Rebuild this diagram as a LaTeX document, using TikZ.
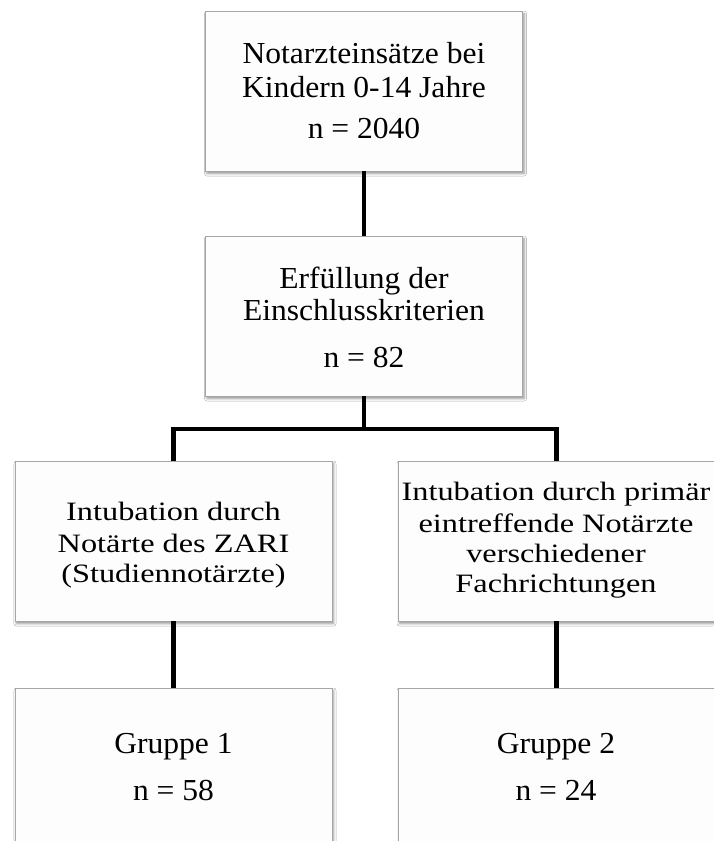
\documentclass[tikz,border=0pt]{standalone}
\usepackage{fontspec}
\setmainfont{Liberation Serif}
\newfontfamily\mainwide{Liberation Serif}[FakeStretch=1.035]
\newfontfamily\wideserif{Liberation Serif}[FakeStretch=1.22]
\usetikzlibrary{shadows.blur}
\definecolor{boxgray}{HTML}{A6A6A6}
\definecolor{boxfill}{HTML}{FDFDFD}
\begin{document}
\begin{tikzpicture}[x=1pt,y=-1pt,
 box/.style={draw=boxgray, line width=0.9pt, fill=boxfill, minimum width=317pt, minimum height=160pt, inner sep=0pt, outer sep=0pt,
   blur shadow={shadow xshift=1.5pt, shadow yshift=-2.5pt, shadow blur radius=2.5pt, shadow opacity=45}},
 conn/.style={line width=4.5pt, black},
 big/.style={font=\mainwide\fontsize{30.5}{34}\selectfont, inner sep=0pt, anchor=base},
 small/.style={font=\wideserif\fontsize{26.5}{31}\selectfont, inner sep=0pt, anchor=base}]
\useasboundingbox[fill=white] (0,0) rectangle (713,841);

% boxes
\node[box] (b1) at (364,91) {};
\node[box] (b2) at (364,316) {};
\node[box] (b3) at (173.5,541) {};
\node[box] (b4) at (556.5,541) {};
\node[box, minimum height=170pt] (b5) at (173.5,773) {};
\node[box, minimum height=170pt] (b6) at (556.5,773) {};

% texts
\node[big] (t1a) at (364,63) {Notarzteinsätze bei};
\node[big] (t1b) at (364,97) {Kindern 0-14 Jahre};
\node[big] (t1c) at (364,138) {n = 2040};

\node[big] (t2a) at (364,288) {Erfüllung der};
\node[big] (t2b) at (364,320) {Einschlusskriterien};
\node[big] (t2c) at (364,367) {n = 82};

\node[small] (t3a) at (173.5,520) {Intubation durch};
\node[small] (t3b) at (173.5,552) {Notärte des ZARI};
\node[small] (t3c) at (173.5,582) {(Studiennotärzte)};

\node[small] (t4a) at (556,500) {Intubation durch primär};
\node[small] (t4b) at (556,532) {eintreffende Notärzte};
\node[small] (t4c) at (556,562) {verschiedener};
\node[small] (t4d) at (556,592) {Fachrichtungen};

\node[big] (t5a) at (173.5,753) {Gruppe 1};
\node[big] (t5b) at (173.5,800) {n = 58};
\node[big] (t6a) at (556,753) {Gruppe 2};
\node[big] (t6b) at (556,800) {n = 24};

% connectors
\coordinate (j) at (364,429);
\draw[conn] (b1.south) -- (b2.north);
\draw[conn] (b2.south) -- (j);
\draw[conn] (b3.north) |- (j) -| (b4.north);
\draw[conn] (b3.south) -- (b5.north);
\draw[conn] (b4.south) -- (b6.north);
\end{tikzpicture}
\end{document}
